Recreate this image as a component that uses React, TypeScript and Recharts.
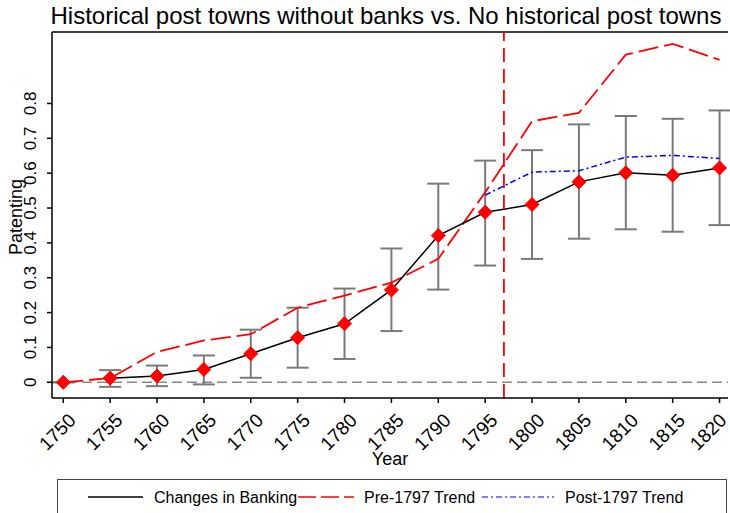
import React from 'react';
import {
  ComposedChart,
  Line,
  XAxis,
  YAxis,
  ErrorBar,
  ReferenceLine,
} from 'recharts';

const YEARS = [1750, 1755, 1760, 1765, 1770, 1775, 1780, 1785, 1790, 1795, 1800, 1805, 1810, 1815, 1820];
const BANKING = [0, 0.012, 0.018, 0.037, 0.082, 0.128, 0.168, 0.265, 0.421, 0.488, 0.51, 0.575, 0.601, 0.594, 0.615];
const UPPER = [0, 0.035, 0.048, 0.077, 0.151, 0.214, 0.269, 0.384, 0.57, 0.636, 0.666, 0.74, 0.764, 0.756, 0.78];
const LOWER = [0, -0.013, -0.011, -0.006, 0.013, 0.042, 0.067, 0.147, 0.266, 0.335, 0.354, 0.412, 0.439, 0.432, 0.451];
const PRE_TREND = [0, 0.012, 0.087, 0.12, 0.138, 0.214, 0.249, 0.286, 0.354, 0.545, 0.749, 0.773, 0.94, 0.971, 0.925];
const POST_TREND = [null, null, null, null, null, null, null, null, null, 0.537, 0.603, 0.607, 0.646, 0.651, 0.642];
const Y_TICKS = [0, 0.1, 0.2, 0.3, 0.4, 0.5, 0.6, 0.7, 0.8];
const BREAK_YEAR = 1797;

const X_DOMAIN: [number, number] = [1748.8, 1820.9];
const Y_DOMAIN: [number, number] = [-0.045, 1.005];
const FONT = '"Liberation Sans", Arial, sans-serif';

const data = YEARS.map((year, i) => ({
  year,
  point: BANKING[i],
  // the connecting line starts after the base year
  banking: i === 0 ? null : BANKING[i],
  err: [BANKING[i] - LOWER[i], UPPER[i] - BANKING[i]],
  pre: PRE_TREND[i],
  post: POST_TREND[i],
}));

const Diamond = (props: any) => {
  const { cx, cy } = props;
  if (cx == null || cy == null) return null;
  const r = 7;
  return (
    <polygon
      points={`${cx},${cy - r} ${cx + r},${cy} ${cx},${cy + r} ${cx - r},${cy}`}
      fill="#ff0000"
      stroke="#ff0000"
      strokeWidth={1}
    />
  );
};

const YearTick = (props: any) => {
  const { x, y, payload } = props;
  const tx = x + 4;
  const ty = y + 7;
  return (
    <text
      x={tx}
      y={ty}
      transform={`rotate(-45, ${tx}, ${ty})`}
      textAnchor="end"
      dominantBaseline="hanging"
      fontSize={19}
      fontFamily={FONT}
      fill="#000"
    >
      {payload.value}
    </text>
  );
};

const ValueTick = (props: any) => {
  const { y, payload } = props;
  const tx = 36;
  const label = payload.value === 0 ? '0' : payload.value.toFixed(1);
  return (
    <text
      x={tx}
      y={y}
      transform={`rotate(-90, ${tx}, ${y})`}
      textAnchor="middle"
      fontSize={17}
      fontFamily={FONT}
      fill="#000"
    >
      {label}
    </text>
  );
};

const YTitle = () => (
  <text
    x={22}
    y={217}
    transform="rotate(-90, 22, 217)"
    textAnchor="middle"
    fontSize={18}
    fontFamily={FONT}
    fill="#000"
  >
    Patenting
  </text>
);

const LegendBox = () => (
  <div
    style={{
      position: 'absolute',
      left: 57,
      top: 479,
      width: 670,
      height: 40,
      border: '1px solid #444',
      boxSizing: 'border-box',
    }}
  >
    <svg width={670} height={34} style={{ position: 'absolute', left: 0, top: 0 }}>
      <line x1={30} x2={85} y1={17} y2={17} stroke="#000" strokeWidth={1.5} />
      <text x={96} y={23} fontSize={16} fontFamily={FONT}>Changes in Banking</text>
      <line x1={240} x2={296} y1={17} y2={17} stroke="#ff0000" strokeWidth={1.5} strokeDasharray="18 5" />
      <text x={306} y={23} fontSize={16} fontFamily={FONT}>Pre-1797 Trend</text>
      <line x1={424} x2={496} y1={17} y2={17} stroke="#0000ff" strokeWidth={1.2} strokeDasharray="6 3 2 3" />
      <text x={507} y={23} fontSize={16} fontFamily={FONT}>Post-1797 Trend</text>
    </svg>
  </div>
);

export default function App() {
  return (
    <div style={{ position: 'absolute', left: 0, top: 0, width: 730, height: 513, background: '#fff', overflow: 'hidden' }}>
      <div
        style={{
          position: 'absolute',
          left: 0,
          top: 2,
          width: 730,
          textAlign: 'center',
          paddingLeft: 42,
          boxSizing: 'border-box',
          fontFamily: FONT,
          fontSize: 24,
          color: '#000',
          whiteSpace: 'nowrap',
        }}
      >
        Historical post towns without banks vs. No historical post towns
      </div>
      <ComposedChart
        width={730}
        height={513}
        data={data}
        margin={{ top: 32, right: 2, left: 0, bottom: 0 }}
      >
        <XAxis
          dataKey="year"
          type="number"
          domain={X_DOMAIN}
          ticks={YEARS}
          allowDataOverflow
          height={115}
          stroke="#000"
          strokeWidth={1.5}
          tickSize={5}
          tick={<YearTick />}
          label={{ value: 'Year', position: 'insideTop', dy: 49, fontSize: 18, fontFamily: FONT, fill: '#000' }}
        />
        <YAxis
          type="number"
          domain={Y_DOMAIN}
          ticks={Y_TICKS}
          allowDataOverflow
          width={52}
          stroke="#000"
          strokeWidth={1.5}
          tickSize={5}
          tick={<ValueTick />}
          label={{ content: <YTitle /> }}
        />
        <ReferenceLine y={Y_DOMAIN[1]} stroke="#000" strokeWidth={1.5} />
        <ReferenceLine y={0} stroke="#888" strokeWidth={1.5} strokeDasharray="10 5" />
        <Line dataKey="point" stroke="none" dot={false} isAnimationActive={false} legendType="none">
          <ErrorBar dataKey="err" direction="y" width={11} stroke="#7a7a7a" strokeWidth={2} />
        </Line>
        <Line
          dataKey="point"
          stroke="none"
          dot={<Diamond />}
          activeDot={false}
          isAnimationActive={false}
        />
        <Line
          dataKey="pre"
          stroke="#ff0000"
          strokeWidth={1.8}
          strokeDasharray="20 6"
          dot={false}
          isAnimationActive={false}
        />
        <Line
          dataKey="post"
          stroke="#0000ff"
          strokeWidth={1.5}
          strokeDasharray="6 3 2 3"
          dot={false}
          connectNulls={false}
          isAnimationActive={false}
        />
        <Line
          dataKey="banking"
          stroke="#000"
          strokeWidth={1.5}
          dot={false}
          isAnimationActive={false}
        />
        <ReferenceLine x={BREAK_YEAR} stroke="#ff0000" strokeWidth={1.8} strokeDasharray="14 7" />
      </ComposedChart>
      <LegendBox />
    </div>
  );
}
